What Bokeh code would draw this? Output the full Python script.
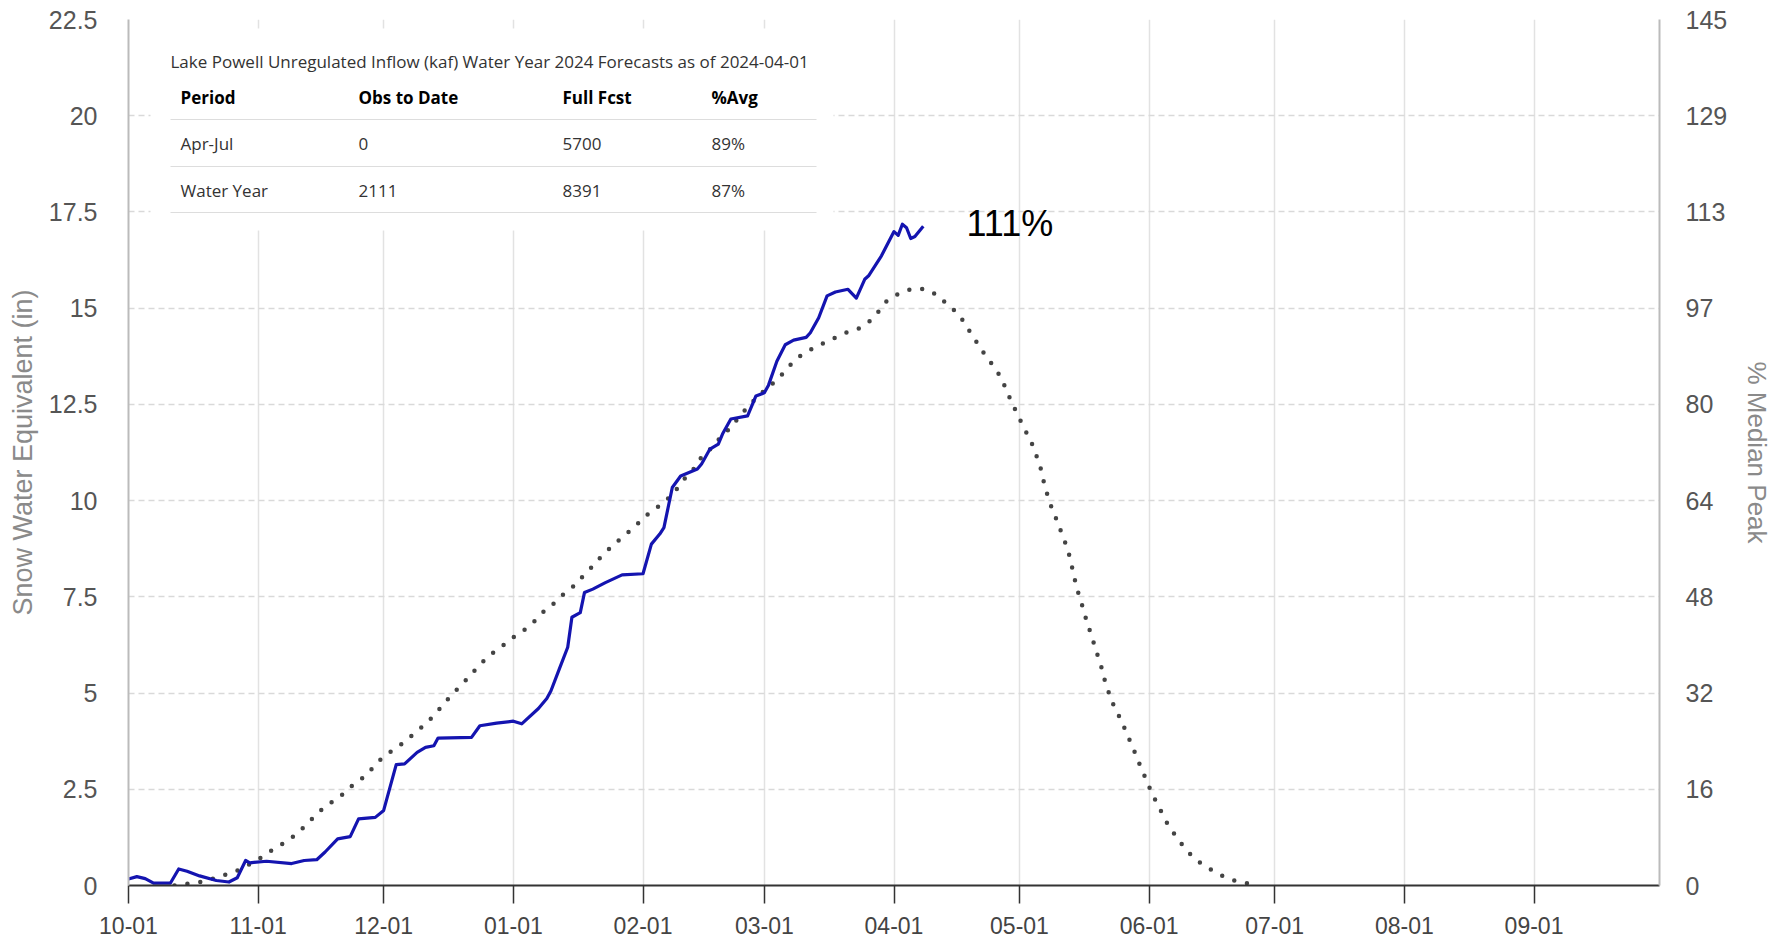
import pandas as pd
from bokeh.plotting import figure
from bokeh.models import (Range1d, LinearAxis, FixedTicker, DatetimeTickFormatter,
                          Label, BoxAnnotation)
from bokeh.embed import file_html
from bokeh.resources import INLINE

# ---------------- data ----------------
WY_START = "2023-10-01"
WY_END = "2024-10-01"

# observed SWE (days after water-year start, inches)
obs_day = [0, 2, 4, 6, 10, 12, 14, 17, 21, 24, 26, 28, 29, 33, 39, 42, 45, 47, 50, 53,
           55, 59, 61, 64, 66, 69, 71, 73, 74, 82, 84, 88, 92, 94, 98, 100, 101, 103, 105, 106,
           108, 109, 111, 114, 118, 123, 125, 127, 128, 130, 132, 136, 137, 139, 141, 142, 144, 148, 150, 152,
           153, 155, 157, 159, 162, 163, 165, 167, 169, 172, 174, 176, 177, 180, 183, 184, 185, 186, 187, 188,
           190]
obs_swe = [0.17, 0.23, 0.18, 0.06, 0.06, 0.43, 0.37, 0.25, 0.13, 0.09, 0.20, 0.65, 0.59, 0.63, 0.57, 0.65, 0.67, 0.87, 1.21, 1.27,
           1.73, 1.77, 1.95, 3.14, 3.16, 3.46, 3.59, 3.63, 3.83, 3.85, 4.15, 4.22, 4.27, 4.20, 4.60, 4.86, 5.06, 5.63, 6.19, 6.97,
           7.09, 7.61, 7.70, 7.87, 8.07, 8.10, 8.87, 9.13, 9.30, 10.34, 10.64, 10.82, 10.95, 11.34, 11.47, 11.73, 12.12, 12.20, 12.72, 12.80,
           13.00, 13.62, 14.05, 14.17, 14.24, 14.36, 14.75, 15.32, 15.42, 15.49, 15.26, 15.75, 15.85, 16.36, 16.99, 16.89, 17.18, 17.09, 16.81, 16.86,
           17.13]

# median SWE (days after water-year start, inches)
med_day = [11, 13.9, 17.1, 20.3, 23.5, 26.5, 29.4, 32.3, 35, 37.8, 40.5, 42.9, 45.2, 47.6, 50.4, 52.8, 55.5, 57.9, 60.1, 62.8,
           65.6, 67.9, 70.5, 72.9, 75, 77.2, 79.4, 81.8, 84, 86.4, 89, 91.6, 94.4, 96.9, 99.2, 101.8, 104.2, 106.8, 108.9, 111.3,
           113.4, 116, 118.4, 120.9, 123.1, 125.7, 128.5, 130.7, 132.7, 135.1, 136.9, 139.5, 141.5, 143.7, 145.8, 147.9, 150.2, 152.6, 155, 157.2,
           159.4, 162.2, 165.1, 168.1, 171.1, 174.3, 177, 179.3, 181.3, 184.2, 187.3, 190.4, 193.4, 195.8, 198.4, 199.8, 201.6, 203.4, 205.2, 207.3,
           208.9, 210.2, 211.6, 213, 214.5, 216, 217.1, 218.2, 218.9, 219.8, 220.9, 222.2, 223.3, 224.5, 225.3, 226, 226.8, 227.8, 228.7, 229.7,
           230.7, 231.7, 232.7, 233.5, 234.6, 235.8, 237.4, 238.6, 240, 241.2, 242.5, 243.8, 245.2, 246.7, 248.2, 250, 251.9, 254.2, 256.7, 259.5,
           262.4, 265.6, 268.5, 270]
med_swe = [0.0, 0.04, 0.09, 0.18, 0.29, 0.41, 0.58, 0.76, 0.97, 1.14, 1.37, 1.62, 1.88, 2.10, 2.29, 2.54, 2.75, 3.00, 3.26, 3.49,
           3.70, 3.91, 4.15, 4.40, 4.67, 4.95, 5.19, 5.47, 5.74, 5.99, 6.19, 6.42, 6.62, 6.85, 7.11, 7.34, 7.59, 7.81, 8.07, 8.33,
           8.60, 8.85, 9.09, 9.30, 9.56, 9.77, 10.00, 10.25, 10.54, 10.82, 11.12, 11.38, 11.64, 11.87, 12.15, 12.42, 12.68, 12.92, 13.13, 13.40,
           13.67, 13.87, 14.04, 14.19, 14.35, 14.45, 14.64, 14.91, 15.19, 15.38, 15.50, 15.50, 15.34, 15.09, 14.85, 14.62, 14.31, 14.01, 13.71, 13.43,
           13.12, 12.78, 12.45, 12.13, 11.80, 11.47, 11.15, 10.79, 10.44, 10.10, 9.75, 9.42, 9.08, 8.75, 8.40, 8.05, 7.69, 7.35, 7.00, 6.66,
           6.32, 5.97, 5.63, 5.28, 4.93, 4.60, 4.28, 3.95, 3.62, 3.28, 2.95, 2.61, 2.28, 1.96, 1.64, 1.34, 1.06, 0.77, 0.55, 0.37,
           0.20, 0.09, 0.04, 0.0]

month_ticks = ["2023-10-01", "2023-11-01", "2023-12-01", "2024-01-01", "2024-02-01", "2024-03-01",
               "2024-04-01", "2024-05-01", "2024-06-01", "2024-07-01", "2024-08-01", "2024-09-01"]
swe_ticks = [0.0, 2.5, 5.0, 7.5, 10.0, 12.5, 15.0, 17.5, 20.0, 22.5]
pct_labels = ["0", "16", "32", "48", "64", "80", "97", "113", "129", "145"]

table_title = "Lake Powell Unregulated Inflow (kaf) Water Year 2024 Forecasts as of 2024-04-01"
table_header = ["Period", "Obs to Date", "Full Fcst", "%Avg"]
table_rows = [["Apr-Jul", "0", "5700", "89%"],
              ["Water Year", "2111", "8391", "87%"]]
current_pct = "111%"

# ---------------- figure ----------------
start = pd.Timestamp(WY_START)
obs_dates = start + pd.to_timedelta(obs_day, unit="D")
med_dates = start + pd.to_timedelta(med_day, unit="D")

FONT = "Liberation Sans"
TFONT = "Open Sans"

p = figure(width=1779, height=943, x_axis_type="datetime",
           x_range=Range1d(pd.Timestamp(WY_START), pd.Timestamp(WY_END)),
           y_range=Range1d(0, 22.5),
           output_backend="svg", toolbar_location=None,
           min_border_left=128, min_border_right=120, min_border_top=19, min_border_bottom=58)
p.outline_line_color = None
p.background_fill_color = "white"

# x axis
xt = FixedTicker(ticks=[pd.Timestamp(d).value // 10**6 for d in month_ticks])
xa = p.xaxis[0]
xa.ticker = xt
xa.formatter = DatetimeTickFormatter(days="%m-%d", months="%m-%d", years="%m-%d")
xa.axis_line_color = "#333333"
xa.axis_line_width = 2
xa.major_tick_line_color = "#333333"
xa.major_tick_line_width = 1.5
xa.major_tick_out = 18
xa.major_tick_in = 0
xa.minor_tick_line_color = None
xa.major_label_text_font = FONT
xa.major_label_text_font_size = "23px"
xa.major_label_text_color = "#444444"
xa.major_label_standoff = 13

# left axis
ya = p.yaxis[0]
ya.ticker = FixedTicker(ticks=swe_ticks)
ya.axis_label = "Snow Water Equivalent (in)"
ya.axis_label_text_font = FONT
ya.axis_label_text_font_size = "27px"
ya.axis_label_text_font_style = "normal"
ya.axis_label_text_color = "#8a8a8a"
ya.axis_label_standoff = 8
ya.axis_line_color = "#bbbbbb"
ya.axis_line_width = 2
ya.major_tick_line_color = None
ya.minor_tick_line_color = None
ya.major_label_text_font = FONT
ya.major_label_text_font_size = "25px"
ya.major_label_text_color = "#555555"
ya.major_label_standoff = 25

# right axis (% of median peak)
ra = LinearAxis(ticker=FixedTicker(ticks=swe_ticks),
                major_label_overrides=dict(zip(swe_ticks, pct_labels)))
ra.axis_label = "% Median Peak"
ra.axis_label_text_font = FONT
ra.axis_label_text_font_size = "26px"
ra.axis_label_text_font_style = "normal"
ra.axis_label_text_color = "#8a8a8a"
ra.axis_label_standoff = 12
ra.axis_line_color = "#bbbbbb"
ra.axis_line_width = 2
ra.major_tick_line_color = None
ra.minor_tick_line_color = None
ra.major_label_text_font = FONT
ra.major_label_text_font_size = "25px"
ra.major_label_text_color = "#555555"
ra.major_label_standoff = 20
p.add_layout(ra, "right")

# grids
p.xgrid.grid_line_color = "#e2e2e2"
p.xgrid.grid_line_width = 1.5
p.ygrid.grid_line_color = "#d9d9d9"
p.ygrid.grid_line_width = 1.5
p.ygrid.grid_line_dash = "6 4"

# data
p.line(med_dates, med_swe, line_color="#444444", line_width=4.5, line_dash="0 13", line_cap="round")
p.line(obs_dates, obs_swe, line_color="#1414b0", line_width=3.2, line_join="round")

# current percent label
p.add_layout(Label(x=838, y=662, x_units="screen", y_units="screen", text=current_pct,
                   text_font=FONT, text_font_size="36px", text_color="#000000",
                   text_baseline="alphabetic", text_align="left"))

# forecast table overlay
p.add_layout(BoxAnnotation(left=22, right=705, bottom=655, top=857,
                           left_units="screen", right_units="screen",
                           bottom_units="screen", top_units="screen",
                           fill_color="white", fill_alpha=1.0, line_color=None))
for yline in [766, 719, 673]:
    p.add_layout(BoxAnnotation(left=42, right=688, bottom=yline - 0.5, top=yline + 0.5,
                               left_units="screen", right_units="screen",
                               bottom_units="screen", top_units="screen",
                               fill_color="#dddddd", fill_alpha=1.0, line_color=None))

p.add_layout(Label(x=42, y=824, x_units="screen", y_units="screen", text=table_title,
                   text_font=TFONT, text_font_size="17px", text_color="#333333",
                   text_baseline="middle", text_align="left"))
col_x = [52, 230, 434, 583]
for cx, h in zip(col_x, table_header):
    p.add_layout(Label(x=cx, y=788, x_units="screen", y_units="screen", text=h,
                       text_font=TFONT, text_font_size="17px", text_font_style="bold",
                       text_color="#000000", text_baseline="middle", text_align="left"))
for ry, row in zip([742, 695], table_rows):
    for cx, t in zip(col_x, row):
        p.add_layout(Label(x=cx, y=ry, x_units="screen", y_units="screen", text=t,
                           text_font=TFONT, text_font_size="17px",
                           text_color="#333333", text_baseline="middle", text_align="left"))

open("out.html", "w").write(file_html(p, INLINE))
